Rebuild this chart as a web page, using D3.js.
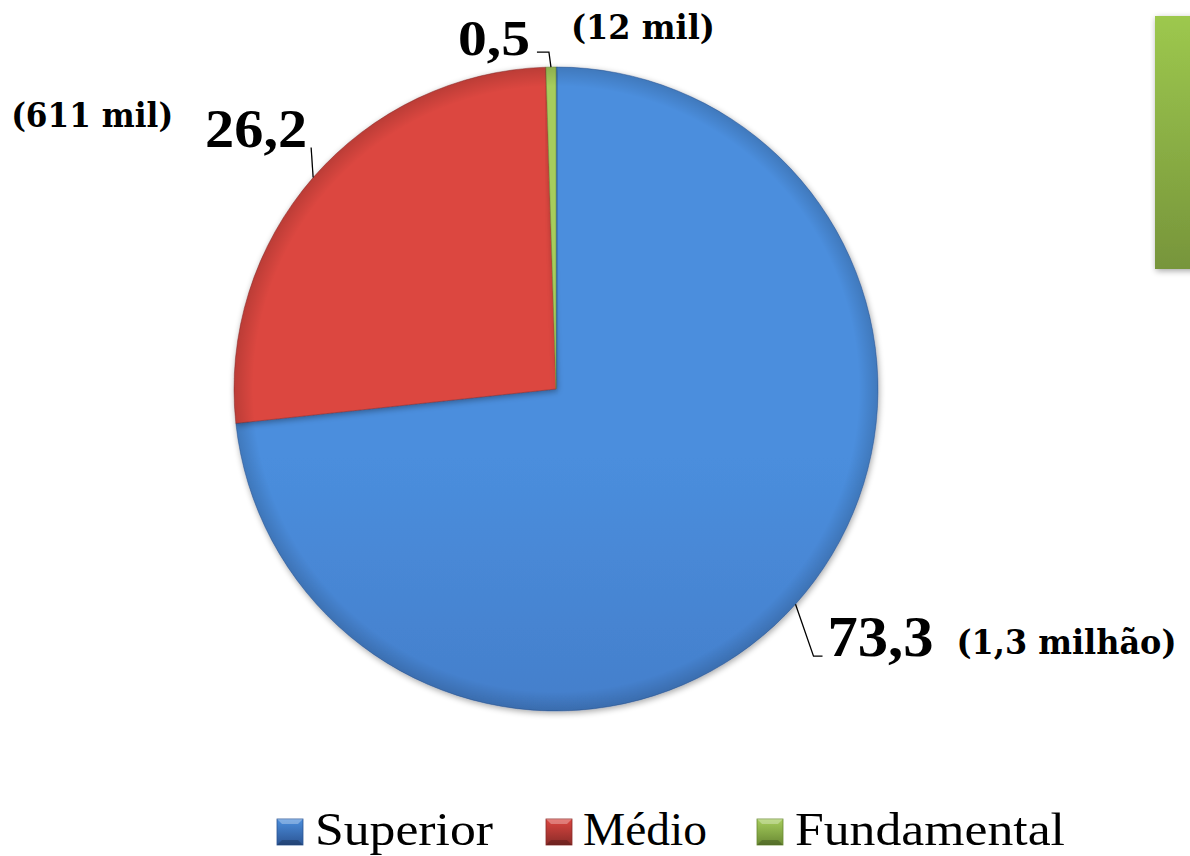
<!DOCTYPE html>
<html><head><meta charset="utf-8">
<script src="https://cdn.jsdelivr.net/npm/d3@7"></script>
<style>html,body{margin:0;padding:0;background:#fff;}svg{display:block;}</style>
</head><body>
<svg id="chart" width="1190" height="856"></svg>
<script>
const categories = ["Superior", "Médio", "Fundamental"];
const values = [73.3, 26.2, 0.5];
const valueLabels = ["73,3", "26,2", "0,5"];
const countLabels = ["(1,3 milhão)", "(611 mil)", "(12 mil)"];

const colors = {
  Superior: ["#4b8edd", "#3868b0", "#2c5594"],
  "Médio": ["#dc4741", "#ae3733", "#8a2b28"],
  Fundamental: ["#a6cd5c", "#88ad46", "#6a8a34"]
};

const W = 1190, H = 856;
const cx = 556, cy = 389, R = 322;
const svg = d3.select("#chart");
const defs = svg.append("defs");

const f = defs.append("filter").attr("id", "shadow").attr("x", "-10%").attr("y", "-10%").attr("width", "120%").attr("height", "120%");
f.append("feGaussianBlur").attr("in", "SourceAlpha").attr("stdDeviation", 3);
f.append("feOffset").attr("dx", 1).attr("dy", 2).attr("result", "ob");
f.append("feComponentTransfer").append("feFuncA").attr("type", "linear").attr("slope", 0.35);
const fm = f.append("feMerge"); fm.append("feMergeNode"); fm.append("feMergeNode").attr("in", "SourceGraphic");

categories.forEach((c, i) => {
  const g = defs.append("linearGradient").attr("id", "g" + i)
    .attr("gradientUnits", "userSpaceOnUse")
    .attr("x1", cx).attr("y1", cy - R).attr("x2", cx).attr("y2", cy + R);
  g.append("stop").attr("offset", "0%").attr("stop-color", colors[c][0]);
  g.append("stop").attr("offset", "100%").attr("stop-color", colors[c][1]);
  const lg = defs.append("linearGradient").attr("id", "lg" + i).attr("x1", 0).attr("y1", 0).attr("x2", 0).attr("y2", 1);
  lg.append("stop").attr("offset", "0%").attr("stop-color", colors[c][0]);
  lg.append("stop").attr("offset", "100%").attr("stop-color", colors[c][2]);
});
const rim2 = defs.append("radialGradient").attr("id", "rim2").attr("gradientUnits", "userSpaceOnUse")
  .attr("cx", 0).attr("cy", 0).attr("r", R);
rim2.append("stop").attr("offset", "94%").attr("stop-color", "#000").attr("stop-opacity", 0);
rim2.append("stop").attr("offset", "100%").attr("stop-color", "#000").attr("stop-opacity", 0.15);

const pie = d3.pie().sort(null).value(d => d.v).startAngle(0).endAngle(2 * Math.PI);
const arcs = pie(categories.map((c, i) => ({ c, v: values[i], i })));
const arc = d3.arc().innerRadius(0).outerRadius(R);

const pg = svg.append("g").attr("transform", `translate(${cx},${cy})`);
pg.selectAll("path.slice").data(arcs).join("path").attr("class", "slice")
  .attr("d", arc)
  .attr("fill", d => `url(#g${d.data.i})`)
  .attr("filter", "url(#shadow)")
  .attr("stroke", d => colors[d.data.c][2]).attr("stroke-width", 0.8).attr("stroke-opacity", 0.6);
pg.selectAll("path.rim").data(arcs).join("path").attr("class", "rim")
  .attr("d", arc).attr("fill", "url(#rim2)");

// labels with leader lines; layout offsets per slice
const layout = [
  { elbow: [18, 52], end: [27, 52], vx: 32, vy: 52, vs: 56, vlen: 106, cx: 161, cy: 50, cs: 33, clen: 220, anchor: "start" },
  { elbow: [-2, -30], end: [-2, -30], vx: -6, vy: -31, vs: 54, vlen: 102, cx: -140, cy: -51, cs: 34, clen: 162, anchor: "end" },
  { elbow: [-2, -15], end: [-14, -15], vx: -21, vy: -12, vs: 50, vlen: 72, cx: 20, cy: -28, cs: 34, clen: 144, anchor: "end" }
];
const serifBold = "'Liberation Serif', 'DejaVu Serif', serif";
const countFont = "'DejaVu Serif', 'Liberation Serif', serif";
arcs.forEach((d, k) => {
  const a = (d.startAngle + d.endAngle) / 2;
  const px = cx + R * Math.sin(a), py = cy - R * Math.cos(a);
  const L = layout[k];
  svg.append("polyline")
    .attr("points", [[px, py], [px + L.elbow[0], py + L.elbow[1]], [px + L.end[0], py + L.end[1]]].map(p => p.join(",")).join(" "))
    .attr("fill", "none").attr("stroke", "#000").attr("stroke-width", 1.3);
  svg.append("text").attr("x", px + L.vx).attr("y", py + L.vy)
    .attr("text-anchor", L.anchor)
    .attr("font-family", serifBold).attr("font-weight", "bold").attr("font-size", L.vs)
    .attr("textLength", L.vlen).attr("lengthAdjust", "spacingAndGlyphs")
    .text(valueLabels[k]);
  svg.append("text").attr("x", px + L.cx).attr("y", py + L.cy)
    .attr("text-anchor", k === 1 ? "end" : "start")
    .attr("font-family", countFont).attr("font-weight", "bold").attr("font-size", L.cs)
    .attr("textLength", L.clen).attr("lengthAdjust", "spacingAndGlyphs")
    .text(countLabels[k]);
});

// partially visible green box at top right
const gb = defs.append("linearGradient").attr("id", "gbox").attr("x1", 0).attr("y1", 0).attr("x2", 0).attr("y2", 1);
gb.append("stop").attr("offset", "0%").attr("stop-color", "#9dc84e");
gb.append("stop").attr("offset", "100%").attr("stop-color", "#77953b");
svg.append("rect").attr("x", 1155).attr("y", 16).attr("width", 60).attr("height", 253)
  .attr("fill", "url(#gbox)").attr("filter", "url(#shadow)");

// legend
const legendItems = [
  { sx: 277, tx: 315, tl: 178 },
  { sx: 546, tx: 583, tl: 124 },
  { sx: 757, tx: 795, tl: 270 }
];
const lg = svg.append("g");
categories.forEach((c, i) => {
  const it = legendItems[i];
  const s = 26, x0 = it.sx, y0 = 819;
  lg.append("rect").attr("x", x0).attr("y", y0).attr("width", s).attr("height", s)
    .attr("fill", `url(#lg${i})`).attr("stroke", colors[c][2]).attr("stroke-width", 0.8);
  const b = 5;
  lg.append("polygon").attr("points", `${x0},${y0} ${x0+s},${y0} ${x0+s-b},${y0+b} ${x0+b},${y0+b}`)
    .attr("fill", "#fff").attr("fill-opacity", 0.3);
  lg.append("polygon").attr("points", `${x0},${y0+s} ${x0+s},${y0+s} ${x0+s-b},${y0+s-b} ${x0+b},${y0+s-b}`)
    .attr("fill", "#000").attr("fill-opacity", 0.2);
  lg.append("text").attr("x", it.tx).attr("y", 845)
    .attr("font-family", "'Liberation Serif', serif").attr("font-size", 46)
    .attr("textLength", it.tl).attr("lengthAdjust", "spacingAndGlyphs")
    .attr("fill", "#000").text(c);
});
</script>
</body></html>
